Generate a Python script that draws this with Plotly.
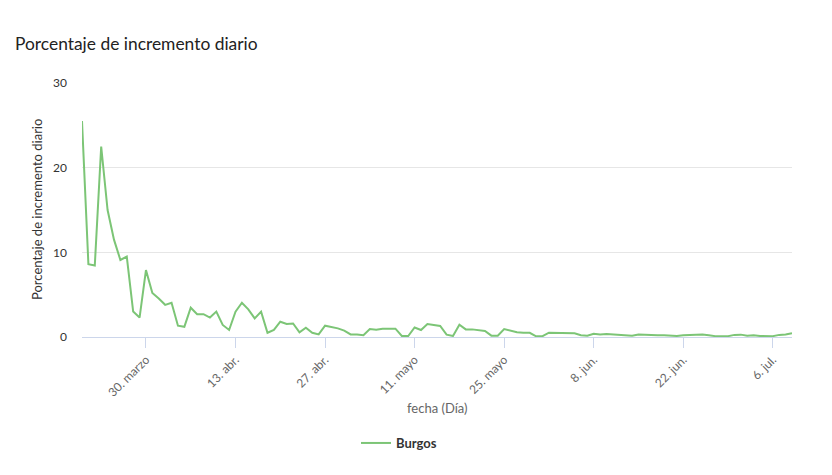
import plotly.graph_objects as go
import pandas as pd

start_date = "2020-03-20"
values = [25.5, 8.6, 8.45, 22.5, 15.0, 11.5, 9.1, 9.5, 3.0, 2.3,
          7.9, 5.2, 4.55, 3.8, 4.05, 1.33, 1.2, 3.46, 2.7, 2.7,
          2.3, 3.0, 1.42, 0.83, 3.0, 4.05, 3.27, 2.2, 3.0, 0.5,
          0.83, 1.8, 1.53, 1.6, 0.55, 1.1, 0.5, 0.3, 1.34, 1.22,
          1.02, 0.75, 0.3, 0.3, 0.2, 0.94, 0.86, 0.98, 0.98, 0.98,
          0.13, 0.12, 1.12, 0.83, 1.53, 1.38, 1.3, 0.28, 0.12, 1.45,
          0.9, 0.9, 0.79, 0.71, 0.16, 0.16, 0.94, 0.75, 0.55, 0.5,
          0.5, 0.08, 0.1, 0.51, 0.5, 0.47, 0.47, 0.43, 0.2, 0.16,
          0.39, 0.3, 0.35, 0.3, 0.25, 0.12, 0.15, 0.3, 0.3, 0.25,
          0.22, 0.2, 0.15, 0.12, 0.2, 0.25, 0.28, 0.3, 0.22, 0.1,
          0.08, 0.1, 0.25, 0.28, 0.15, 0.2, 0.12, 0.15, 0.1, 0.25,
          0.3, 0.45]
dates = pd.date_range(start_date, periods=len(values), freq="D")

tick_dates = ["2020-03-30", "2020-04-13", "2020-04-27", "2020-05-11",
              "2020-05-25", "2020-06-08", "2020-06-22", "2020-07-06"]
tick_labels = ["30. marzo", "13. abr.", "27. abr.", "11. mayo",
               "25. mayo", "8. jun.", "22. jun.", "6. jul."]
y_ticks = [0, 10, 20, 30]

series_name = "Burgos"
title_text = "Porcentaje de incremento diario"
y_title = "Porcentaje de incremento diario"
x_title = "fecha (Día)"

FONT = "Lato, 'Open Sans', sans-serif"

fig = go.Figure()
fig.add_trace(go.Scatter(
    x=dates, y=values, mode="lines", name=series_name,
    line=dict(color="#7cc576", width=2),
    showlegend=True,
))

fig.update_layout(
    width=832, height=475,
    margin=dict(l=82, r=40, t=83, b=138),
    paper_bgcolor="white", plot_bgcolor="white",
    font=dict(family=FONT, color="#333333"),
    title=dict(text=title_text, xref="container", yref="container",
               x=15/832, xanchor="left", y=1-44/475, yanchor="middle",
               font=dict(family=FONT, size=17.4, color="#222222")),
    showlegend=True,
    legend=dict(orientation="h", x=(356-82)/710, xanchor="left",
                y=(337-443)/254, yanchor="middle",
                font=dict(family=FONT, size=13, color="#333333", weight="bold"),
                itemwidth=30),
    xaxis=dict(
        range=[dates[0], dates[-1]],
        tickvals=pd.to_datetime(tick_dates), ticktext=tick_labels,
        tickangle=-45, tickfont=dict(family=FONT, size=12, color="#666666"),
        showgrid=False, showline=True, linecolor="#ccd6eb", linewidth=1,
        ticks="outside", ticklen=10, tickcolor="#ccd6eb",
        zeroline=False,
    ),
    yaxis=dict(
        range=[0, 30], tickvals=y_ticks,
        tickfont=dict(family=FONT, size=12, color="#333333"),
        showgrid=True, gridcolor="#e6e6e6", gridwidth=1,
        zeroline=False, showline=False, ticks="", ticklabelstandoff=14,
    ),
    annotations=[
        dict(text=x_title, xref="paper", yref="paper",
             x=(437-82)/710, y=(337-408)/254, xanchor="center", yanchor="middle",
             showarrow=False, font=dict(family=FONT, size=13, color="#666666")),
        dict(text=y_title, xref="paper", yref="paper",
             x=(37-82)/710, y=0.5, xanchor="center", yanchor="middle",
             textangle=-90, showarrow=False,
             font=dict(family=FONT, size=13, color="#333333")),
    ],
)

fig.write_html("out.html")
